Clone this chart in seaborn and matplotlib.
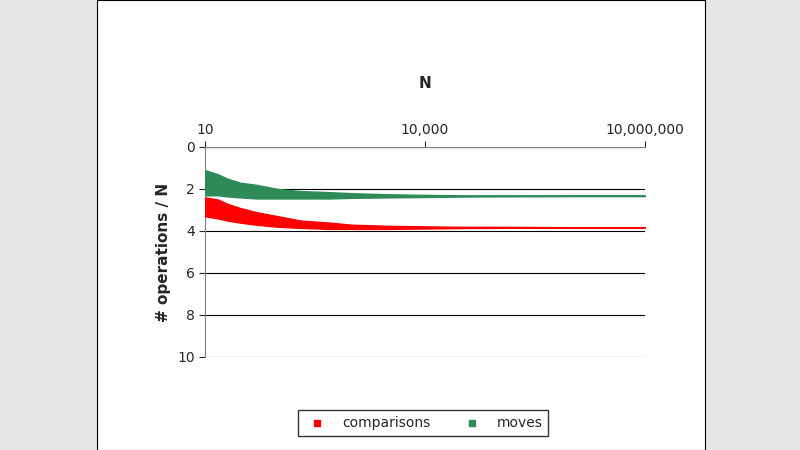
import matplotlib
matplotlib.use("Agg")
import matplotlib.pyplot as plt
import seaborn as sns

# hand-read spread of the points per N
n_vals = [10, 15, 20, 30, 50, 70, 100, 200, 500, 1000, 3000, 10000, 30000, 100000, 1000000, 10000000]
comp_lo = [2.4, 2.5, 2.7, 2.9, 3.1, 3.2, 3.3, 3.5, 3.6, 3.7, 3.75, 3.78, 3.8, 3.8, 3.82, 3.82]
comp_hi = [3.3, 3.4, 3.5, 3.6, 3.7, 3.75, 3.8, 3.85, 3.9, 3.9, 3.9, 3.88, 3.86, 3.85, 3.84, 3.84]
move_lo = [1.1, 1.3, 1.5, 1.7, 1.8, 1.9, 2.0, 2.1, 2.15, 2.2, 2.25, 2.28, 2.3, 2.3, 2.3, 2.3]
move_hi = [2.3, 2.3, 2.35, 2.4, 2.45, 2.45, 2.45, 2.45, 2.45, 2.42, 2.4, 2.38, 2.36, 2.35, 2.34, 2.34]

sns.set_style("white")
plt.rcParams['font.family'] = ['DejaVu Sans']

fig = plt.figure(figsize=(8, 4.5), dpi=100)
fig.patch.set_facecolor("#e6e6e6")
bg = fig.add_axes([97/800, 0, 608/800, 1], zorder=0)
bg.set_xticks([])
bg.set_yticks([])
bg.set_facecolor("white")
for s in bg.spines.values():
    s.set_color("black")

ax = fig.add_axes([205/800, 93/450, 440/800, 210/450], zorder=1)
ax.set_facecolor("white")

for lo, hi, col, lab in [(comp_lo, comp_hi, "red", "comparisons"), (move_lo, move_hi, "#2e8b57", "moves")]:
    ax.fill_between(n_vals, lo, hi, color=col, lw=1, edgecolor=col, zorder=3)
    ax.scatter([], [], color=col, marker="s", s=6, label=lab)

ax.set_xscale("log")
ax.set_xlim(10, 1e7)
ax.set_ylim(10, 0)
ax.set_yticks([0, 2, 4, 6, 8, 10])
ax.set_xticks([10, 10000, 10000000])
ax.set_xticklabels(["10", "10,000", "10,000,000"])
ax.minorticks_off()
ax.xaxis.tick_top()
ax.xaxis.set_label_position("top")
ax.set_xlabel("N", fontsize=11, fontweight="bold", labelpad=25)
ax.set_ylabel("# operations / N", fontsize=11, fontweight="bold")
ax.grid(axis="y", color="black", lw=0.8)
for s in ["right", "bottom"]:
    ax.spines[s].set_visible(False)
ax.spines["left"].set_color("gray")
ax.spines["top"].set_color("gray")
ax.tick_params(labelsize=10, left=True, top=True, length=4)
fig.legend(loc="center", bbox_to_anchor=(423/800, 27/450), ncol=2, frameon=True,
           edgecolor="black", fancybox=False, fontsize=10, markerscale=1.5)
fig.savefig("out.png", dpi=100, facecolor=fig.get_facecolor())
